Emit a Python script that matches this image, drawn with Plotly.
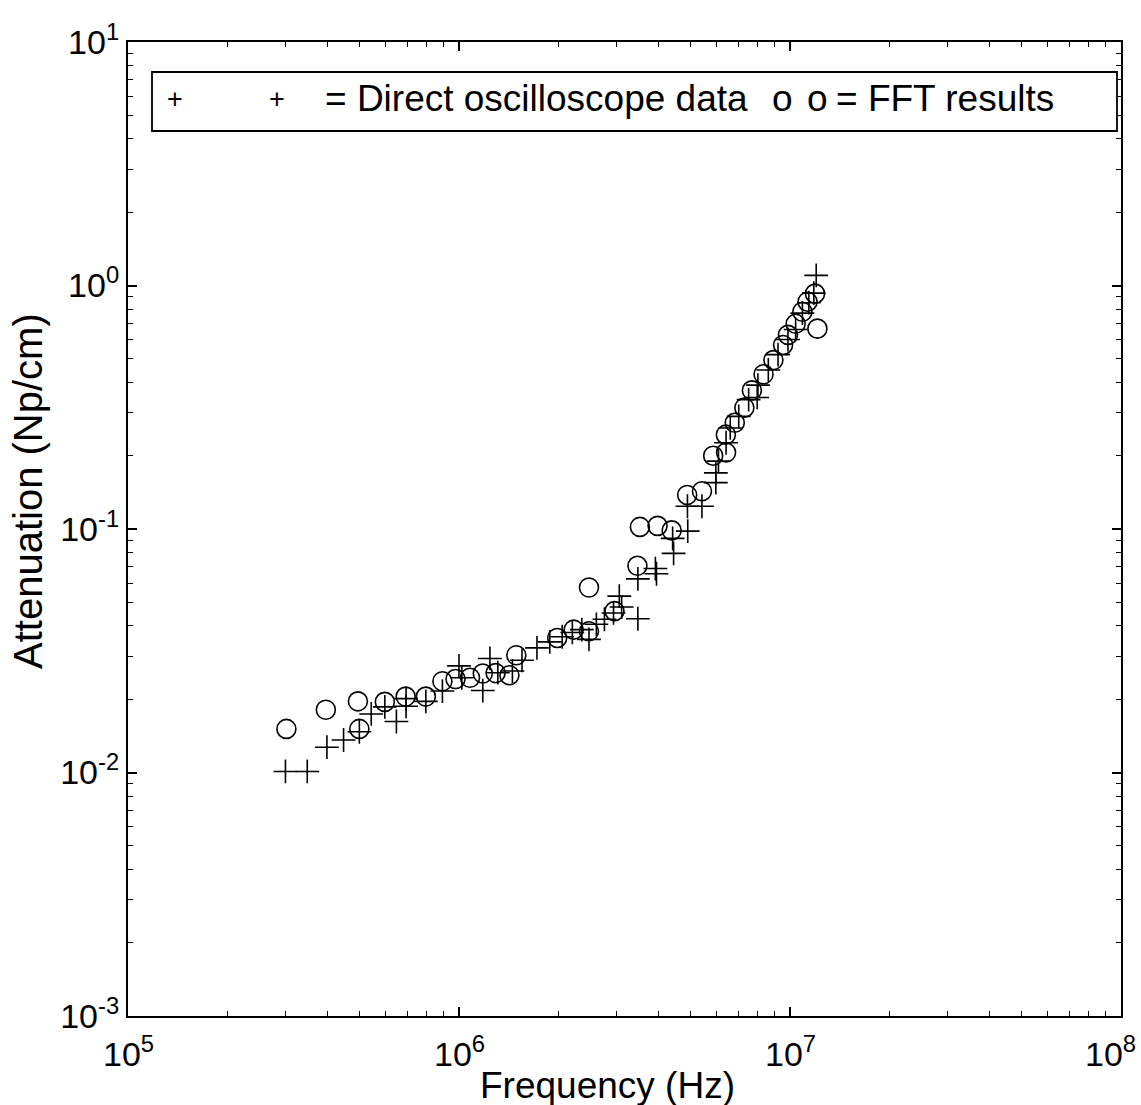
import math
import plotly.graph_objects as go

# ---- data ----
direct_freq = [2.99e5, 3.48e5, 3.99e5, 4.48e5, 5.0e5, 5.43e5, 5.97e5, 6.47e5, 6.92e5, 6.92e5,
               7.94e5, 8.91e5, 1.00e6, 1.02e6, 1.18e6, 1.24e6, 1.31e6, 1.45e6, 1.55e6, 1.72e6,
               1.88e6, 2.05e6, 2.20e6, 2.35e6, 2.47e6, 2.60e6, 2.75e6, 2.93e6, 3.05e6, 3.10e6,
               3.47e6, 3.47e6, 3.92e6, 3.95e6, 4.42e6, 4.45e6, 4.91e6, 4.90e6, 5.42e6, 5.97e6,
               5.97e6, 6.08e6, 6.41e6, 6.60e6, 7.00e6, 7.50e6, 7.96e6, 8.00e6, 8.60e6, 9.20e6,
               9.86e6, 1.04e7, 1.09e7, 1.14e7, 1.18e7, 1.20e7]
direct_atten = [0.0101, 0.0101, 0.0127, 0.0136, 0.0147, 0.0174, 0.0186, 0.0162, 0.0187, 0.0201,
                0.0196, 0.0216, 0.0274, 0.0245, 0.0217, 0.0294, 0.0257, 0.0261, 0.0289, 0.0325,
                0.0344, 0.0361, 0.0376, 0.0386, 0.0352, 0.0406, 0.0426, 0.0452, 0.0530, 0.0478,
                0.0428, 0.0624, 0.0688, 0.0655, 0.0915, 0.0794, 0.0980, 0.124, 0.124, 0.155,
                0.170, 0.190, 0.226, 0.260, 0.290, 0.340, 0.347, 0.390, 0.450, 0.520,
                0.600, 0.660, 0.770, 0.850, 0.930, 1.10]

fft_freq = [3.01e5, 3.96e5, 4.95e5, 5.0e5, 5.97e5, 6.9e5, 7.94e5, 8.91e5, 9.76e5, 1.08e6,
            1.18e6, 1.29e6, 1.42e6, 1.49e6, 1.98e6, 2.22e6, 2.47e6, 2.47e6, 2.95e6, 3.46e6,
            3.52e6, 3.98e6, 4.39e6, 4.89e6, 5.42e6, 5.86e6, 6.41e6, 6.40e6, 6.81e6, 7.28e6,
            7.67e6, 8.32e6, 8.91e6, 9.53e6, 9.86e6, 1.04e7, 1.09e7, 1.13e7, 1.19e7, 1.21e7]
fft_atten = [0.0151, 0.0181, 0.0196, 0.0151, 0.0195, 0.0205, 0.0205, 0.0237, 0.0242, 0.0245,
             0.0255, 0.0256, 0.0251, 0.0303, 0.0357, 0.0386, 0.0380, 0.0575, 0.0460, 0.0706,
             0.102, 0.103, 0.0987, 0.138, 0.143, 0.200, 0.206, 0.244, 0.273, 0.315,
             0.371, 0.432, 0.494, 0.570, 0.627, 0.696, 0.780, 0.858, 0.926, 0.665]

x_major = [1e5, 1e6, 1e7, 1e8]
x_major_text = ["10<sup>5</sup>", "10<sup>6</sup>", "10<sup>7</sup>", "10<sup>8</sup>"]
y_major = [1e-3, 1e-2, 1e-1, 1e0, 1e1]
y_major_text = ["10<sup>-3</sup>", "10<sup>-2</sup>", "10<sup>-1</sup>", "10<sup>0</sup>", "10<sup>1</sup>"]

x_minor = [m * 10 ** e for e in range(5, 8) for m in range(2, 10)]
y_minor = [m * 10.0 ** e for e in range(-3, 1) for m in range(2, 10)]

FONT = "Liberation Sans, Arial, sans-serif"
W, H = 1141, 1105
L, R, T, B = 128, 20, 42, 89

fig = go.Figure()
fig.add_trace(go.Scatter(
    x=direct_freq, y=direct_atten, mode="markers", name="Direct oscilloscope data",
    marker=dict(symbol="cross-thin", size=17, color="black", line=dict(color="black", width=1.6))))
fig.add_trace(go.Scatter(
    x=fft_freq, y=fft_atten, mode="markers", name="FFT results",
    marker=dict(symbol="circle-open", size=19, color="black", line=dict(color="black", width=1.6))))

axis_common = dict(
    showgrid=False, zeroline=False, showline=True, linecolor="black", linewidth=2,
    mirror="allticks", ticks="inside", ticklen=9, tickwidth=1.5, tickcolor="black",
    tickfont=dict(family=FONT, size=34, color="black"),
)
fig.update_xaxes(type="log", range=[5, 8], tickmode="array", tickvals=x_major, ticktext=x_major_text,
                 showticklabels=False,
                 minor=dict(tickmode="array", tickvals=x_minor, ticks="inside", ticklen=5,
                            tickwidth=1.2, tickcolor="black", showgrid=False),
                 **axis_common)
fig.update_yaxes(type="log", range=[-3, 1], tickmode="array", tickvals=y_major, ticktext=y_major_text,
                 minor=dict(tickmode="array", tickvals=y_minor, ticks="inside", ticklen=5,
                            tickwidth=1.2, tickcolor="black", showgrid=False),
                 **axis_common)

pw, ph = W - L - R, H - T - B

def px(x):
    return (x - L) / pw

def py(y):
    return (H - B - y) / ph

# x tick labels (drawn as text so the right-most one stays inside the page)
for i, (v, txt) in enumerate(zip(x_major, x_major_text)):
    last = i == len(x_major) - 1
    fig.add_annotation(xref="paper" if last else "x", yref="paper",
                       x=px(1138) if last else math.log10(v), y=py(1028),
                       text=txt, showarrow=False, xanchor="right" if last else "center",
                       yanchor="top", font=dict(family=FONT, size=34, color="black"))

# legend box
fig.add_shape(type="rect", xref="paper", yref="paper",
              x0=px(152), x1=px(1117), y0=py(131), y1=py(72),
              line=dict(color="black", width=1.8), fillcolor="white")

ann_font = dict(family=FONT, size=37, color="black")
for xx in (175, 277):
    fig.add_annotation(xref="paper", yref="paper", x=px(xx), y=py(99), text="+",
                       showarrow=False, xanchor="center", yanchor="middle",
                       font=dict(family=FONT, size=27, color="black"))
fig.add_annotation(xref="paper", yref="paper", x=px(323), y=py(99),
                   text="= Direct oscilloscope data", showarrow=False,
                   xanchor="left", yanchor="middle", font=ann_font)
fig.add_annotation(xref="paper", yref="paper", x=px(782), y=py(99), text="o",
                   showarrow=False, xanchor="center", yanchor="middle", font=ann_font)
fig.add_annotation(xref="paper", yref="paper", x=px(817), y=py(99), text="o",
                   showarrow=False, xanchor="center", yanchor="middle", font=ann_font)
fig.add_annotation(xref="paper", yref="paper", x=px(834), y=py(99),
                   text="= FFT results", showarrow=False,
                   xanchor="left", yanchor="middle", font=ann_font)

# axis titles
fig.add_annotation(xref="paper", yref="paper", x=px(607), y=py(1085),
                   text="Frequency (Hz)", showarrow=False, xanchor="center", yanchor="middle",
                   font=dict(family=FONT, size=37, color="black"))
fig.add_annotation(xref="paper", yref="paper", x=px(28), y=py(491),
                   text="Attenuation (Np/cm)", showarrow=False, xanchor="center", yanchor="middle",
                   textangle=-90, font=dict(family=FONT, size=40, color="black"))

fig.update_layout(
    width=W, height=H, margin=dict(l=L, r=R, t=T, b=B, autoexpand=False),
    paper_bgcolor="white", plot_bgcolor="white", showlegend=False,
)

fig.write_html("out.html", config={"displayModeBar": False})
